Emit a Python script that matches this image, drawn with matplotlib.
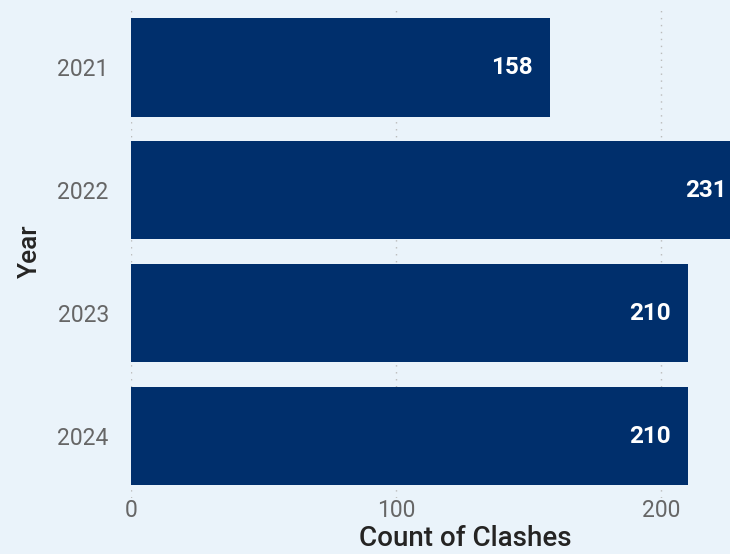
import matplotlib
matplotlib.use("Agg")
import matplotlib.pyplot as plt

years = ["2021", "2022", "2023", "2024"]
counts = [158, 231, 210, 210]
xticks = [0, 100, 200]

BG = "#EAF3FA"
BAR = "#002F6C"

plt.rcParams['font.family'] = ['Roboto', 'DejaVu Sans']

fig = plt.figure(figsize=(7.3, 5.54), dpi=100, facecolor=BG)
ax = fig.add_axes([131/730, 1-497.5/554, 1-131/730, (497.5-6)/554])
ax.set_facecolor(BG)

ypos = list(range(len(years)))
bars = ax.barh(ypos, counts, height=0.8, color=BAR, zorder=3)
ax.set_ylim(len(years)-0.5, -0.5)
ax.set_xlim(0, 226)

for y, v in zip(ypos, counts):
    ax.annotate(str(v), xy=(v, y), xytext=(-12, 0), textcoords='offset points',
                ha='right', va='center', color='white', fontsize=17.5,
                fontweight='bold', annotation_clip=False, zorder=4)

ax.set_yticks(ypos)
ax.set_yticklabels(years)
ax.set_xticks(xticks)
ax.set_xticklabels([str(t) for t in xticks])
ax.tick_params(axis='both', length=0, labelsize=16.5, labelcolor='#666666')
ax.tick_params(axis='y', pad=16)
ax.tick_params(axis='x', pad=1)

ax.grid(axis='x', linestyle=(0, (1, 4)), color='#BBBBBB', linewidth=1, zorder=0)
ax.grid(axis='y', visible=False)
for s in ax.spines.values():
    s.set_visible(False)

ax.set_xlabel("Count of Clashes", fontsize=20, fontweight='medium', color='#252423')
ax.xaxis.set_label_coords((465-131)/599, (497.5-545.5)/491.5)
ax.xaxis.label.set_va('baseline')
ax.set_ylabel("Year", fontsize=19, fontweight='medium', color='#252423')
ax.yaxis.set_label_coords((30-131)/599, 0.5)
ax.yaxis.label.set_va('center')

fig.savefig("out.png", dpi=100, facecolor=BG)
